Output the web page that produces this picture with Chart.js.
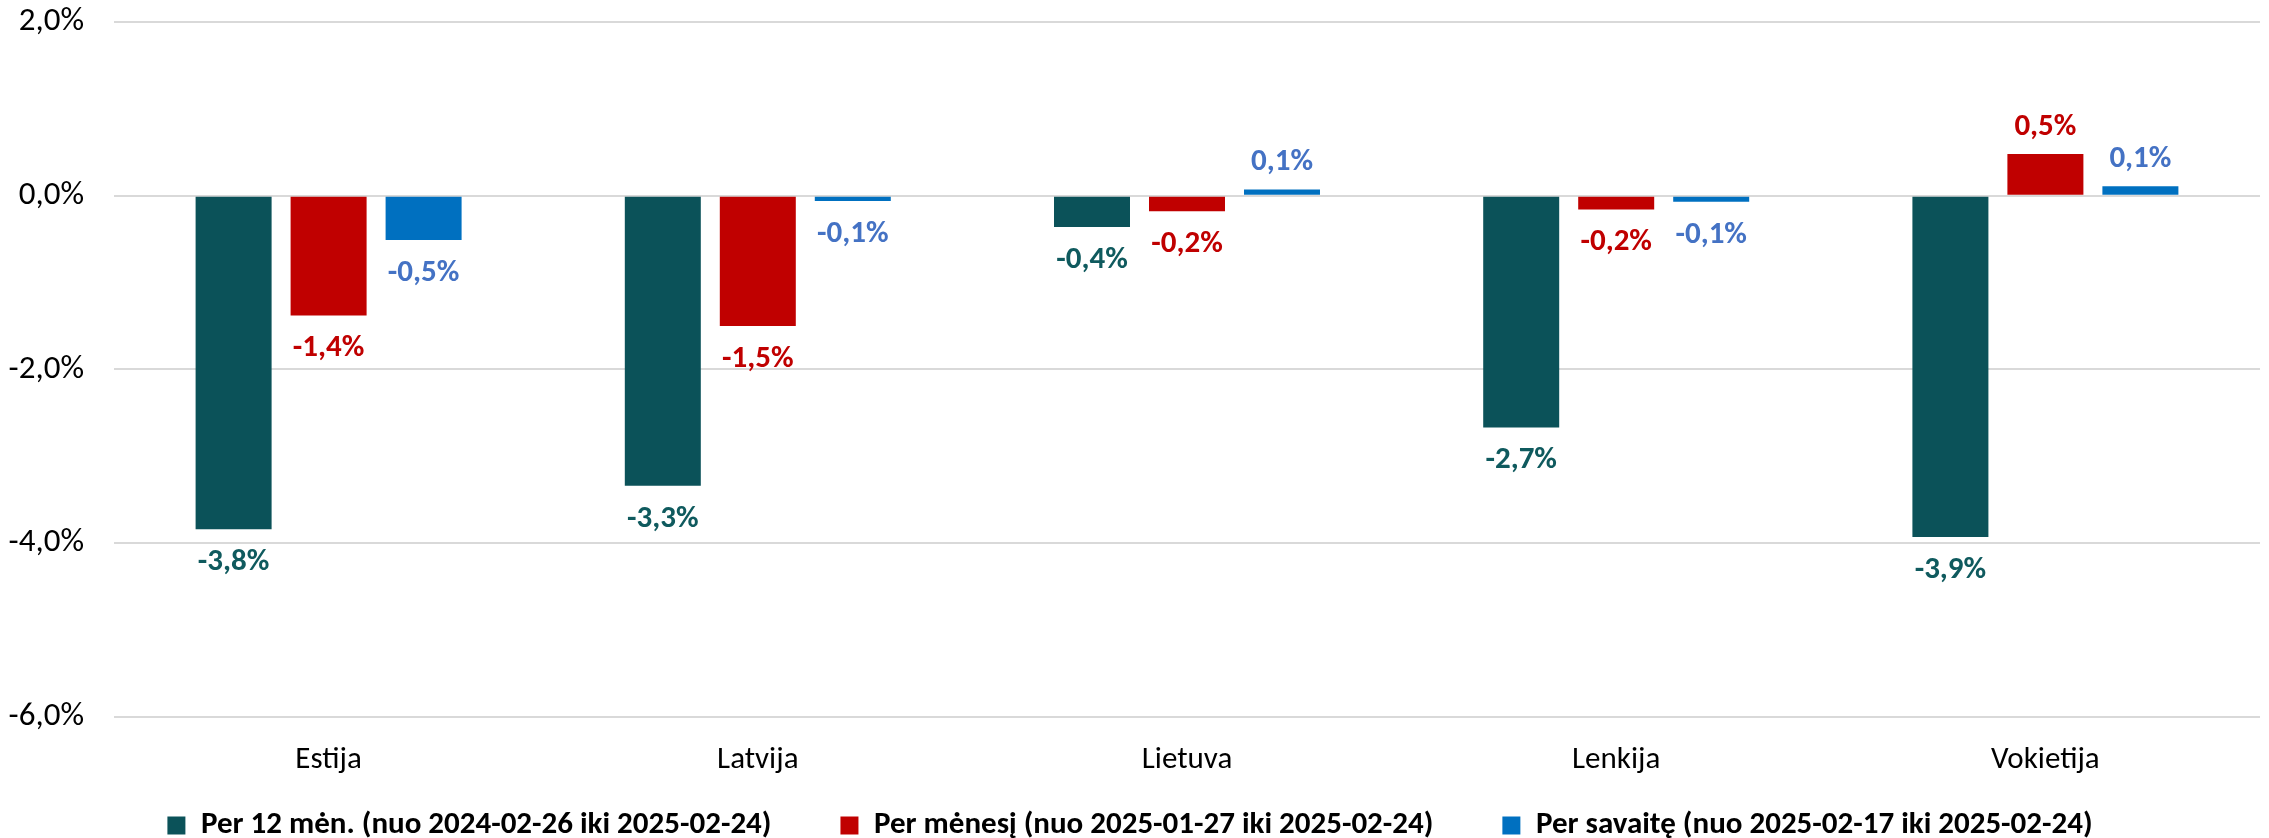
<!DOCTYPE html>
<html>
<head>
<meta charset="utf-8">
<script src="https://cdn.jsdelivr.net/npm/chart.js@4.4.1/dist/chart.umd.min.js"></script>
<style>
  html, body { margin: 0; padding: 0; background: #fff; }
  #wrap { width: 2269px; height: 838px; }
</style>
</head>
<body>
<div id="wrap"><canvas id="chart" width="2269" height="838"></canvas></div>
<script>
const countries = ['Estija', 'Latvija', 'Lietuva', 'Lenkija', 'Vokietija'];

const year12  = [-3.84, -3.34, -0.36, -2.67, -3.93];
const month1  = [-1.38, -1.50, -0.18, -0.16, 0.48];
const week1   = [-0.51, -0.06, 0.07, -0.07, 0.11];

const seriesNames = [
  'Per 12 mėn. (nuo 2024-02-26 iki 2025-02-24)',
  'Per mėnesį (nuo 2025-01-27 iki 2025-02-24)',
  'Per savaitę (nuo 2025-02-17 iki 2025-02-24)'
];

const yTicks = [-6, -4, -2, 0, 2];

const FONT = "Carlito, Calibri, Lato, 'Noto Sans', sans-serif";
const LEGEND_PAD = 69;

const fmt = v => v.toFixed(1).replace('.', ',') + '%';

// value labels drawn under negative bars and above positive ones
const valueLabels = {
  id: 'valueLabels',
  afterDatasetsDraw(chart) {
    const ctx = chart.ctx;
    ctx.save();
    ctx.font = 'bold 31px ' + FONT;
    ctx.textAlign = 'center';
    ctx.textBaseline = 'middle';
    chart.data.datasets.forEach((ds, i) => {
      const meta = chart.getDatasetMeta(i);
      ctx.fillStyle = ds.labelColor;
      meta.data.forEach((bar, j) => {
        const v = ds.data[j];
        const y = v < 0 ? bar.y + 33 : bar.y - 27;
        ctx.fillText(fmt(v), bar.x, y);
      });
    });
    ctx.restore();
  }
};

// legend keeps wide gaps between items but sits lower than its padding would put it
const legendSpot = {
  id: 'legendSpot',
  afterLayout(chart) {
    const lg = chart.legend;
    lg.top = 826 - LEGEND_PAD - 16;
    lg.bottom = chart.height;
    lg.height = lg.bottom - lg.top;
  }
};

new Chart(document.getElementById('chart'), {
  type: 'bar',
  data: {
    labels: countries,
    datasets: [
      { label: seriesNames[0], data: year12, backgroundColor: '#0B5259', labelColor: '#0F5A5E' },
      { label: seriesNames[1], data: month1, backgroundColor: '#C00000', labelColor: '#C00000' },
      { label: seriesNames[2], data: week1,  backgroundColor: '#0070C0', labelColor: '#4472C4' }
    ]
  },
  options: {
    responsive: false,
    animation: false,
    categoryPercentage: 0.664,
    barPercentage: 0.8,
    layout: { padding: { top: 22, right: 9, bottom: 0, left: 0 } },
    plugins: {
      tooltip: { enabled: false },
      legend: {
        position: 'bottom',
        maxHeight: 34,
        labels: {
          color: '#000',
          font: { family: FONT, size: 31, weight: 'bold' },
          boxWidth: 18,
          boxHeight: 18,
          padding: LEGEND_PAD
        }
      }
    },
    scales: {
      x: {
        grid: { display: false, drawTicks: false },
        border: { display: false },
        ticks: { color: '#000', font: { family: FONT, size: 31 }, padding: 25 }
      },
      y: {
        min: -6,
        max: 2,
        afterBuildTicks: s => { s.ticks = yTicks.map(v => ({ value: v })); },
        afterFit: s => { s.width = 114; s.paddingTop = 0; s.paddingBottom = 0; },
        grid: { color: '#D9D9D9', lineWidth: 2, drawTicks: false },
        border: { display: false },
        ticks: {
          color: '#000',
          font: { family: FONT, size: 33 },
          padding: 30,
          callback: v => fmt(v)
        }
      }
    }
  },
  plugins: [valueLabels, legendSpot]
});
</script>
</body>
</html>
